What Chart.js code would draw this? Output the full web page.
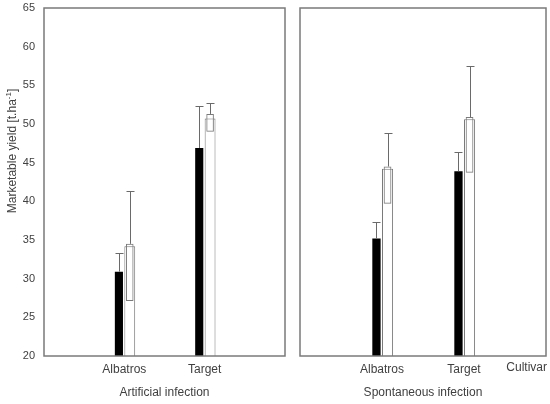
<!DOCTYPE html>
<html>
<head>
<meta charset="utf-8">
<script src="https://cdn.jsdelivr.net/npm/chart.js@4.4.1/dist/chart.umd.min.js"></script>
<style>
  body { margin: 0; background: #fff; }
  #wrap { position: relative; width: 550px; height: 404px; }
  .panel { position: absolute; top: 0; height: 404px; }
</style>
</head>
<body>
<div id="wrap">
  <div class="panel" style="left:0;width:292px"><canvas id="artChart"></canvas></div>
  <div class="panel" style="left:292px;width:258px"><canvas id="sponChart"></canvas></div>
</div>
<script>
// cultivars, with an empty slot either side so they sit at 1/3 and 2/3
const cultivars = ['Albatros', 'Target'];
const labels = [''].concat(cultivars, ['']);

// artificial infection
const artBlack = [30.9, 46.9];
const artBlackErr = [33.3, 52.3];
const artWhite = [34.2, 50.7];
const artBoxLow = [27.1, 49.0];
const artBoxHigh = [34.5, 51.3];
const artWhiteErr = [41.3, 52.7];

// spontaneous infection
const sponBlack = [35.2, 43.9];
const sponBlackErr = [37.3, 46.4];
const sponWhite = [44.2, 50.6];
const sponBoxLow = [39.7, 43.7];
const sponBoxHigh = [44.5, 50.9];
const sponWhiteErr = [48.8, 57.5];

const yMin = 20, yMax = 65, yStep = 5;

Chart.defaults.font.family = '"Liberation Sans", Arial, sans-serif';
Chart.defaults.color = '#404040';

const GREY = '#7a7a7a';

function pad(arr) { return [null].concat(arr, [null]); }

// draws error whiskers above the bars, using the bar elements and y scale
function whiskerPlugin(sets) {
  return {
    id: 'whiskers',
    afterDatasetsDraw(chart) {
      const ctx = chart.ctx, y = chart.scales.y;
      ctx.save();
      ctx.strokeStyle = '#6a6a6a';
      ctx.lineWidth = 1;
      sets.forEach(s => {
        const meta = chart.getDatasetMeta(s.dataset);
        s.tops.forEach((top, i) => {
          if (top == null) return;
          const bar = meta.data[i];
          const x = Math.round(bar.x) + 0.5;
          const from = y.getPixelForValue(s.from[i]);
          const to = Math.round(y.getPixelForValue(top)) + 0.5;
          ctx.beginPath();
          ctx.moveTo(x, from); ctx.lineTo(x, to);
          ctx.moveTo(x - 4, to); ctx.lineTo(x + 4, to);
          ctx.stroke();
        });
      });
      ctx.restore();
    }
  };
}

const framePlugin = {
  id: 'frame',
  afterDraw(chart) {
    const a = chart.chartArea, ctx = chart.ctx;
    ctx.save();
    ctx.strokeStyle = GREY;
    ctx.lineWidth = 1.5;
    ctx.strokeRect(a.left, a.top, a.right - a.left, a.bottom - a.top);
    ctx.restore();
  }
};

const yTitlePlugin = {
  id: 'ytitle',
  afterDraw(chart) {
    const ctx = chart.ctx;
    const main = 'Marketable yield [t.ha', sup = '-1', end = ']';
    ctx.save();
    ctx.fillStyle = '#404040';
    ctx.textBaseline = 'middle';
    ctx.font = '12px "Liberation Sans", Arial, sans-serif';
    const w1 = ctx.measureText(main).width, w3 = ctx.measureText(end).width;
    ctx.font = '8px "Liberation Sans", Arial, sans-serif';
    const w2 = ctx.measureText(sup).width;
    const total = w1 + w2 + w3;
    ctx.translate(13, 151);
    ctx.rotate(-Math.PI / 2);
    let x = -total / 2;
    ctx.font = '12px "Liberation Sans", Arial, sans-serif';
    ctx.fillText(main, x, 0); x += w1;
    ctx.font = '8px "Liberation Sans", Arial, sans-serif';
    ctx.fillText(sup, x, -4); x += w2;
    ctx.font = '12px "Liberation Sans", Arial, sans-serif';
    ctx.fillText(end, x, 0);
    ctx.restore();
  }
};

const cultivarPlugin = {
  id: 'cultivar',
  afterDraw(chart) {
    const ctx = chart.ctx;
    ctx.save();
    ctx.fillStyle = '#404040';
    ctx.font = '12px "Liberation Sans", Arial, sans-serif';
    ctx.textAlign = 'right';
    ctx.textBaseline = 'middle';
    ctx.fillText('Cultivar', chart.chartArea.right + 1, 368);
    ctx.restore();
  }
};

function makeChart(id, d, title, showY, padding, extra) {
  const catPct = 0.27;
  const boxData = pad(d.boxLow.map((lo, i) => [lo, d.boxHigh[i]]));
  return new Chart(document.getElementById(id), {
    type: 'bar',
    data: {
      labels: labels,
      datasets: [
        {
          label: 'black',
          data: pad(d.black),
          stack: 'm',
          order: 0,
          backgroundColor: '#000',
          borderWidth: 0,
          categoryPercentage: catPct,
          barPercentage: 0.75
        },
        {
          label: 'box',
          data: boxData,
          stack: 'w',
          order: 1,
          backgroundColor: 'rgba(255,255,255,0)',
          borderColor: GREY,
          borderWidth: 1,
          borderSkipped: false,
          categoryPercentage: catPct,
          barPercentage: 0.7
        },
        {
          label: 'white',
          data: pad(d.white),
          stack: 'w',
          order: 2,
          backgroundColor: '#fff',
          borderColor: GREY,
          borderWidth: 1,
          categoryPercentage: catPct,
          barPercentage: 1.0
        }
      ]
    },
    options: {
      responsive: true,
      maintainAspectRatio: false,
      animation: false,
      layout: { padding: padding },
      plugins: { legend: { display: false }, tooltip: { enabled: false } },
      scales: {
        x: {
          offset: false,
          grid: { display: false, drawTicks: false },
          border: { display: false },
          ticks: { autoSkip: false, maxRotation: 0, padding: 6, font: { size: 12 } },
          title: { display: true, text: title, font: { size: 12 }, padding: { top: 4, bottom: 4 } },
          afterFit: s => { s.height = 48; s.paddingLeft = 0; s.paddingRight = 0; }
        },
        y: {
          display: showY,
          stacked: false,
          min: yMin,
          max: yMax,
          grid: { display: false, drawTicks: false },
          border: { display: false },
          ticks: { stepSize: yStep, padding: 9, font: { size: 11 } },
          afterFit: s => { s.width = showY ? 44 : 0; s.paddingTop = 0; s.paddingBottom = 0; }
        }
      }
    },
    plugins: [framePlugin, whiskerPlugin([
      { dataset: 0, from: pad(d.black), tops: pad(d.blackErr) },
      { dataset: 2, from: pad(d.boxHigh), tops: pad(d.whiteErr) }
    ])].concat(extra)
  });
}

makeChart('artChart', {
  black: artBlack, blackErr: artBlackErr, white: artWhite,
  boxLow: artBoxLow, boxHigh: artBoxHigh, whiteErr: artWhiteErr
}, 'Artificial infection', true, { top: 8, right: 7, left: 0, bottom: 0 }, [yTitlePlugin]);

makeChart('sponChart', {
  black: sponBlack, blackErr: sponBlackErr, white: sponWhite,
  boxLow: sponBoxLow, boxHigh: sponBoxHigh, whiteErr: sponWhiteErr
}, 'Spontaneous infection', false, { top: 8, right: 4, left: 8, bottom: 0 }, [cultivarPlugin]);
</script>
</body>
</html>
